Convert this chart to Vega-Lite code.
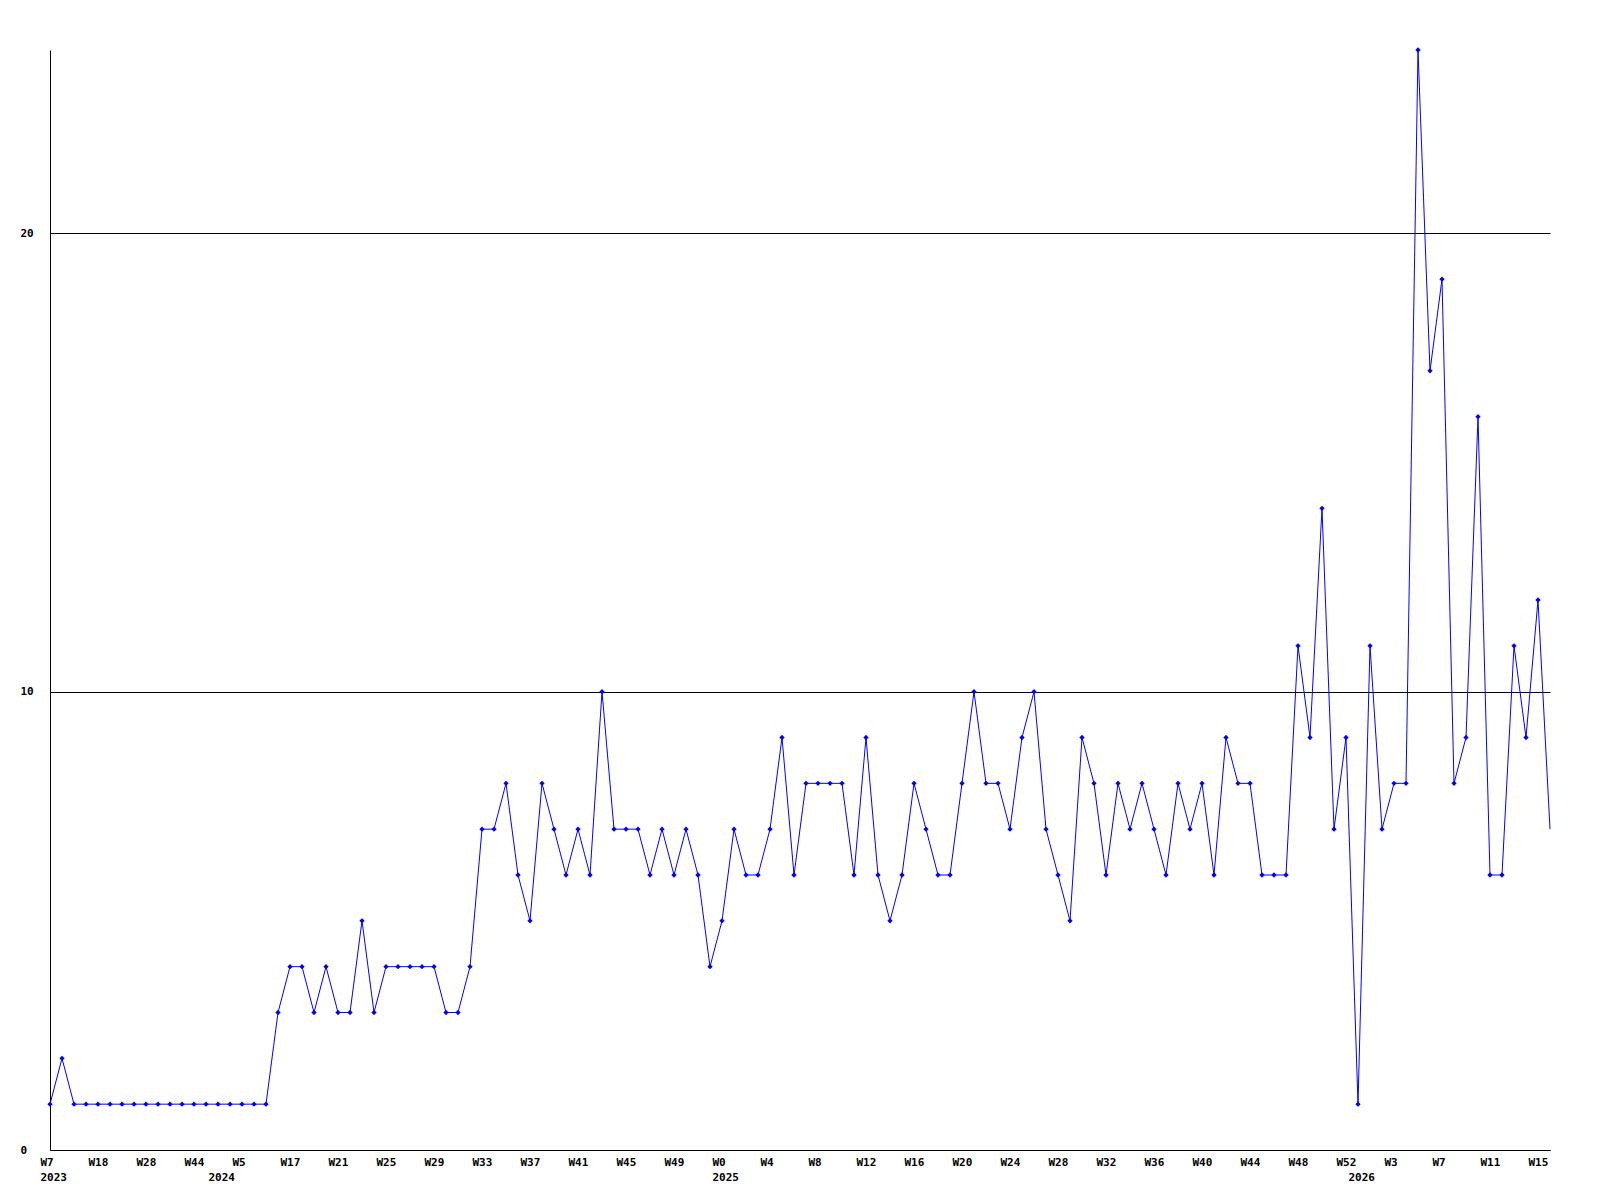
{
  "$schema": "https://vega.github.io/schema/vega-lite/v6.json",
  "width": 1500,
  "height": 1100,
  "autosize": {"type": "none"},
  "padding": {"left": 50, "top": 50, "right": 50, "bottom": 50},
  "background": "white",
  "config": {
    "view": {"stroke": null},
    "axis": {
      "labelFont": "DejaVu Sans Mono",
      "labelFontWeight": "bold",
      "labelFontSize": 11,
      "labelColor": "black",
      "domainColor": "black",
      "domainWidth": 1,
      "ticks": false,
      "title": null
    }
  },
  "data": {
    "values": [
      {"i": 0, "v": 1}, {"i": 1, "v": 2}, {"i": 2, "v": 1}, {"i": 3, "v": 1}, {"i": 4, "v": 1},
      {"i": 5, "v": 1}, {"i": 6, "v": 1}, {"i": 7, "v": 1}, {"i": 8, "v": 1}, {"i": 9, "v": 1},
      {"i": 10, "v": 1}, {"i": 11, "v": 1}, {"i": 12, "v": 1}, {"i": 13, "v": 1}, {"i": 14, "v": 1},
      {"i": 15, "v": 1}, {"i": 16, "v": 1}, {"i": 17, "v": 1}, {"i": 18, "v": 1}, {"i": 19, "v": 3},
      {"i": 20, "v": 4}, {"i": 21, "v": 4}, {"i": 22, "v": 3}, {"i": 23, "v": 4}, {"i": 24, "v": 3},
      {"i": 25, "v": 3}, {"i": 26, "v": 5}, {"i": 27, "v": 3}, {"i": 28, "v": 4}, {"i": 29, "v": 4},
      {"i": 30, "v": 4}, {"i": 31, "v": 4}, {"i": 32, "v": 4}, {"i": 33, "v": 3}, {"i": 34, "v": 3},
      {"i": 35, "v": 4}, {"i": 36, "v": 7}, {"i": 37, "v": 7}, {"i": 38, "v": 8}, {"i": 39, "v": 6},
      {"i": 40, "v": 5}, {"i": 41, "v": 8}, {"i": 42, "v": 7}, {"i": 43, "v": 6}, {"i": 44, "v": 7},
      {"i": 45, "v": 6}, {"i": 46, "v": 10}, {"i": 47, "v": 7}, {"i": 48, "v": 7}, {"i": 49, "v": 7},
      {"i": 50, "v": 6}, {"i": 51, "v": 7}, {"i": 52, "v": 6}, {"i": 53, "v": 7}, {"i": 54, "v": 6},
      {"i": 55, "v": 4}, {"i": 56, "v": 5}, {"i": 57, "v": 7}, {"i": 58, "v": 6}, {"i": 59, "v": 6},
      {"i": 60, "v": 7}, {"i": 61, "v": 9}, {"i": 62, "v": 6}, {"i": 63, "v": 8}, {"i": 64, "v": 8},
      {"i": 65, "v": 8}, {"i": 66, "v": 8}, {"i": 67, "v": 6}, {"i": 68, "v": 9}, {"i": 69, "v": 6},
      {"i": 70, "v": 5}, {"i": 71, "v": 6}, {"i": 72, "v": 8}, {"i": 73, "v": 7}, {"i": 74, "v": 6},
      {"i": 75, "v": 6}, {"i": 76, "v": 8}, {"i": 77, "v": 10}, {"i": 78, "v": 8}, {"i": 79, "v": 8},
      {"i": 80, "v": 7}, {"i": 81, "v": 9}, {"i": 82, "v": 10}, {"i": 83, "v": 7}, {"i": 84, "v": 6},
      {"i": 85, "v": 5}, {"i": 86, "v": 9}, {"i": 87, "v": 8}, {"i": 88, "v": 6}, {"i": 89, "v": 8},
      {"i": 90, "v": 7}, {"i": 91, "v": 8}, {"i": 92, "v": 7}, {"i": 93, "v": 6}, {"i": 94, "v": 8},
      {"i": 95, "v": 7}, {"i": 96, "v": 8}, {"i": 97, "v": 6}, {"i": 98, "v": 9}, {"i": 99, "v": 8},
      {"i": 100, "v": 8}, {"i": 101, "v": 6}, {"i": 102, "v": 6}, {"i": 103, "v": 6}, {"i": 104, "v": 11},
      {"i": 105, "v": 9}, {"i": 106, "v": 14}, {"i": 107, "v": 7}, {"i": 108, "v": 9}, {"i": 109, "v": 1},
      {"i": 110, "v": 11}, {"i": 111, "v": 7}, {"i": 112, "v": 8}, {"i": 113, "v": 8}, {"i": 114, "v": 24},
      {"i": 115, "v": 17}, {"i": 116, "v": 19}, {"i": 117, "v": 8}, {"i": 118, "v": 9}, {"i": 119, "v": 16},
      {"i": 120, "v": 6}, {"i": 121, "v": 6}, {"i": 122, "v": 11}, {"i": 123, "v": 9}, {"i": 124, "v": 12},
      {"i": 125, "v": 7}
    ]
  },
  "encoding": {
    "x": {
      "field": "i",
      "type": "quantitative",
      "scale": {"domain": [0, 125], "nice": false, "zero": false},
      "axis": {
        "grid": false,
        "values": [0, 4, 8, 12, 14, 16, 20, 24, 28, 32, 36, 40, 44, 48, 52, 56, 60, 64, 68, 72, 76, 80, 84, 88, 92, 96, 100, 104, 108, 109, 112, 116, 120, 124],
        "labelAlign": "left",
        "labelOffset": -10,
        "labelFlush": false,
        "labelOverlap": false,
        "labelPadding": 6,
        "labelLineHeight": 15,
        "labelBaseline": "top",
        "labelExpr": "datum.value == 0 ? ['W7', '2023'] : datum.value == 14 ? ['', '2024'] : datum.value == 56 ? ['W0', '2025'] : datum.value == 109 ? ['', '2026'] : ['W7','W18','W28','W44','W5','W17','W21','W25','W29','W33','W37','W41','W45','W49','W0','W4','W8','W12','W16','W20','W24','W28','W32','W36','W40','W44','W48','W52','W3','W7','W11','W15'][datum.value / 4]"
      }
    },
    "y": {
      "field": "v",
      "type": "quantitative",
      "scale": {"domain": [0, 24], "nice": false, "zero": true},
      "axis": {
        "values": [0, 10, 20],
        "grid": true,
        "gridColor": "black",
        "gridOpacity": 1,
        "gridWidth": 1,
        "labelAlign": "left",
        "labelPadding": 30,
        "labelBaseline": "middle"
      }
    }
  },
  "layer": [
    {
      "mark": {"type": "line", "color": "#0000ff", "strokeWidth": 1, "interpolate": "linear"}
    },
    {
      "transform": [{"filter": "datum.i < 125"}],
      "mark": {"type": "point", "shape": "diamond", "filled": true, "color": "#0000ff", "size": 28, "opacity": 1}
    }
  ]
}
